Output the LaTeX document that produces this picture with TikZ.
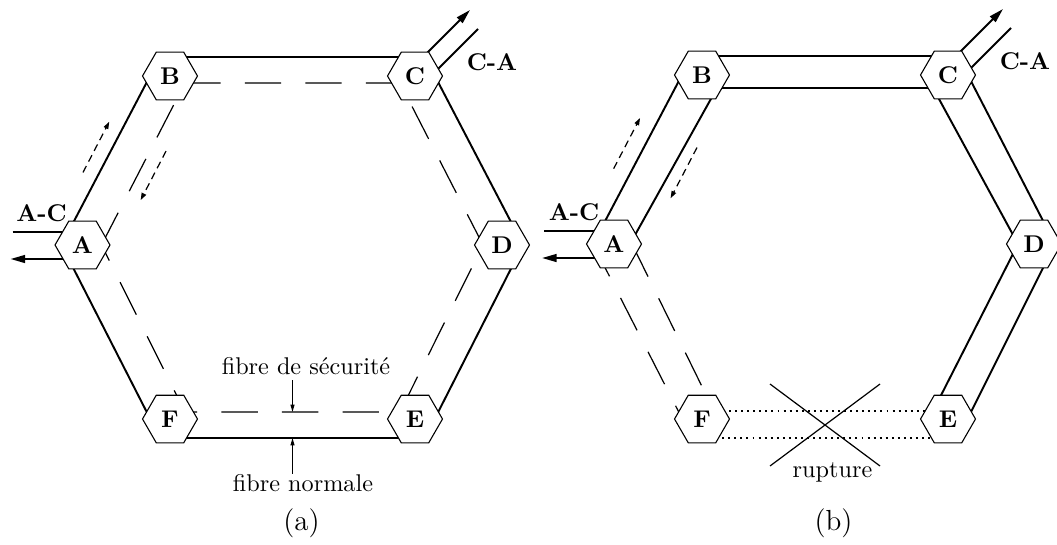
\documentclass[tikz,border=0pt]{standalone}
\usetikzlibrary{arrows.meta, shapes.geometric, calc, backgrounds}

\begin{document}
\begin{tikzpicture}[x=0.413pt, y=-0.413pt, >={Triangle[length=6pt, width=3.2pt]},
  site/.style={regular polygon, regular polygon sides=6, draw, fill=white, line width=0.45pt, inner sep=0pt, minimum size=22.7pt, font=\bfseries},
  normale/.style={line width=0.8pt},
  secours/.style={line width=0.5pt, dash pattern=on 15pt off 10pt},
  coupee/.style={line width=0.5pt, dash pattern=on 0.8pt off 1.7pt},
  sens/.style={line width=0.5pt, dash pattern=on 3pt off 2pt, -{Triangle[length=3pt, width=2pt]}},
  repere/.style={line width=0.45pt, -{Triangle[length=3pt, width=1.6pt]}}]
\useasboundingbox (0,0) rectangle (1057,544);
% (a)
\node[site] (A1) at (82.5,245) {A};
\node[site] (B1) at (170,76) {B};
\node[site] (C1) at (415,76) {C};
\node[site] (D1) at (502,245) {D};
\node[site] (E1) at (415,419) {E};
\node[site] (F1) at (170,419) {F};
\node (AC1) at ($(A1)+(-41,-32)$) {\textbf{A-C}};
\node (CA1) at ($(C1)+(77,-14)$) {\textbf{C-A}};
\coordinate (mFE) at ($(F1)!0.5!(E1)$);
\node[inner sep=0pt] (secu) at (306,366) {fibre de sécurité};
\node[inner sep=0pt] (norm) at (303,483) {fibre normale};
\draw[repere] ($(secu.south -| mFE)+(0,5)$) -- ($(mFE)+(0,-7)$);
\draw[repere] (norm.north -| mFE) -- ($(mFE)+(0,19)$);
\draw[sens] ($(A1)!0.34!(B1)!13.6pt!90:(B1)$) -- ($(A1)!0.64!(B1)!13.6pt!90:(B1)$);
\draw[sens] ($(A1)!0.64!(B1)!12.8pt!-90:(B1)$) -- ($(A1)!0.35!(B1)!12.8pt!-90:(B1)$);
\node[font=\large] (lblA) at (301.5,523) {(a)};
% (b)
\node[site] (A2) at (614,244) {A};
\node[site] (B2) at (702,75) {B};
\node[site] (C2) at (948,75) {C};
\node[site] (D2) at (1034,244) {D};
\node[site] (E2) at (948,419) {E};
\node[site] (F2) at (702,419) {F};
\node (AC2) at ($(A2)+(-40,-32)$) {\textbf{A-C}};
\node (CA2) at ($(C2)+(77,-14)$) {\textbf{C-A}};
\draw[sens] ($(A2)!0.35!(B2)!14.5pt!90:(B2)$) -- ($(A2)!0.65!(B2)!14.5pt!90:(B2)$);
\draw[sens] ($(A2)!0.65!(B2)!12pt!-90:(B2)$) -- ($(A2)!0.35!(B2)!12pt!-90:(B2)$);
\coordinate (X) at ($(F2)!0.5!(E2)+(0,6)$);
\draw[line width=0.5pt] ($(X)+(-55,-41)$) -- ($(X)+(55,41)$);
\draw[line width=0.5pt] ($(X)+(-55,41)$) -- ($(X)+(55,-41)$);
\node (rupt) at ($(X)+(7.5,47)$) {rupture};
\node[font=\large] (lblB) at (833.5,523) {(b)};
\begin{pgfonlayer}{background}
\draw[normale] ($(A1)+(-21,0)$) -- ($(B1)+(-10,-19)$) -- ($(C1)+(10,-19)$) -- ($(D1)+(21,0)$) -- ($(E1)+(10,19)$) -- ($(F1)+(-10,19)$) -- cycle;
\draw[secours] ($(A1)+(19,0)$) -- ($(B1)+(15,7)$) -- ($(C1)+(-15,7)$) -- ($(D1)+(-19,0)$) -- ($(E1)+(-15,-7)$) -- ($(F1)+(15,-7)$) -- cycle;
\draw[normale] ($(A1)+(-70,-13)$) -- ($(A1)+(0,-13)$);
\draw[normale,->] ($(A1)+(0,14)$) -- ($(A1)+(-72,14)$);
\draw[normale,->] ($(C1)+(4,-15)$) -- ($(C1)+(55,-66)$);
\draw[normale] ($(C1)+(63,-47)$) -- ($(C1)+(8,8)$);
\draw[normale] ($(E2)+(10,19)$) -- ($(D2)+(21,0)$) -- ($(C2)+(10,-19)$) -- ($(B2)+(-10,-19)$) -- ($(A2)+(-21,0)$);
\draw[normale] ($(E2)+(-15,-8)$) -- ($(D2)+(-16,0)$) -- ($(C2)+(-15,13)$) -- ($(B2)+(15,13)$) -- ($(A2)+(16,0)$);
\draw[secours] ($(A2)+(-21,0)$) -- ($(F2)+(-10,19)$);
\draw[secours] ($(A2)+(18,0)$) -- ($(F2)+(12,-8)$);
\draw[coupee] ($(F2)+(-10,19)$) -- ($(E2)+(10,19)$);
\draw[coupee] ($(F2)+(15,-8)$) -- ($(E2)+(-15,-8)$);
\draw[normale] ($(A2)+(-70,-13)$) -- ($(A2)+(0,-13)$);
\draw[normale,->] ($(A2)+(0,14)$) -- ($(A2)+(-72,14)$);
\draw[normale,->] ($(C2)+(4,-15)$) -- ($(C2)+(55,-66)$);
\draw[normale] ($(C2)+(63,-47)$) -- ($(C2)+(8,8)$);
\end{pgfonlayer}
\end{tikzpicture}
\end{document}
